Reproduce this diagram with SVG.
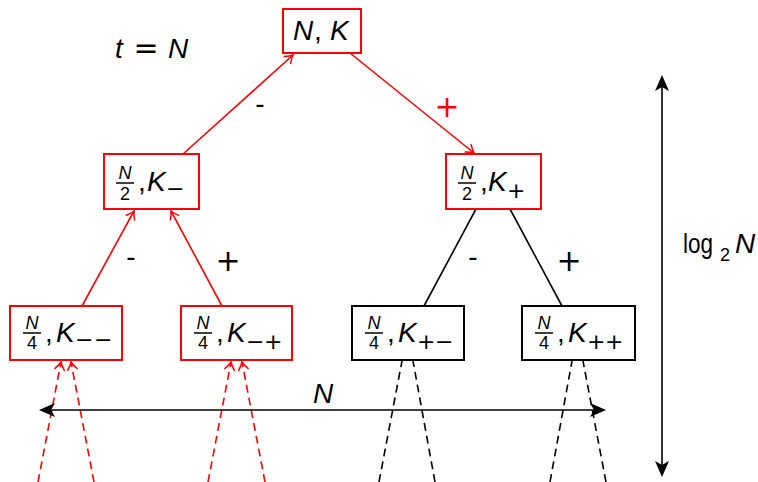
<svg xmlns="http://www.w3.org/2000/svg" width="758" height="482" viewBox="0 0 758 482">
  <style>
    .box { fill: #fff; stroke-width: 2; }
    .red { stroke: #f00; }
    .blk { stroke: #000; }
    .edge { fill: none; stroke-width: 1.6; }
    .dash { fill: none; stroke-width: 1.6; stroke-dasharray: 8 5; }
    .math { font-family: "Liberation Sans", Arial, sans-serif; font-style: italic; font-size: 28px; fill: #000; }
    .rm { font-family: "Liberation Sans", Arial, sans-serif; font-size: 28px; fill: #000; }
    .num { font-family: "Liberation Sans", Arial, sans-serif; font-style: italic; font-size: 18px; fill: #000; }
    .den { font-family: "Liberation Sans", Arial, sans-serif; font-size: 18px; fill: #000; }
    .sub { font-family: "DejaVu Sans", sans-serif; font-size: 22px; fill: #000; }
    .op { font-family: "DejaVu Sans", sans-serif; font-size: 30px; }
    .hy { font-family: "Liberation Sans", Arial, sans-serif; font-size: 28px; fill: #000; }
    .bar { stroke: #000; stroke-width: 1.5; }
  </style>
  <defs>
    <marker id="toRed" markerUnits="userSpaceOnUse" viewBox="-9 -6 11 12" markerWidth="11" markerHeight="12" refX="0" refY="0" orient="auto" overflow="visible">
      <path d="M-7.5,-4.8 C-4.2,-2.1 -1.6,-0.6 0,0 C-1.6,0.6 -4.2,2.1 -7.5,4.8" fill="none" stroke="#f00" stroke-width="1.5" stroke-linecap="round"/>
    </marker>
    <marker id="stealth" markerUnits="userSpaceOnUse" viewBox="-13 -8 18 16" markerWidth="18" markerHeight="16" refX="0" refY="0" orient="auto-start-reverse" overflow="visible">
      <path d="M4,0 L-12,-7 L-8,0 L-12,7 Z" fill="#000"/>
    </marker>
  </defs>

  <!-- connectors -->
  <g id="connectors">
    <line class="edge red" x1="183" y1="154" x2="293" y2="55" marker-end="url(#toRed)"/>
    <line class="edge red" x1="350" y1="53" x2="474" y2="153" marker-end="url(#toRed)"/>
    <line class="edge red" x1="82" y1="306" x2="134" y2="211" marker-end="url(#toRed)"/>
    <line class="edge red" x1="222" y1="306" x2="171" y2="211" marker-end="url(#toRed)"/>
    <line class="edge blk" x1="476" y1="209" x2="424" y2="306"/>
    <line class="edge blk" x1="510" y1="209" x2="562" y2="306"/>

    <line class="dash red" x1="38" y1="482" x2="61" y2="362" marker-end="url(#toRed)"/>
    <line class="dash red" x1="94" y1="482" x2="71" y2="362" marker-end="url(#toRed)"/>
    <line class="dash red" x1="208" y1="482" x2="231" y2="362" marker-end="url(#toRed)"/>
    <line class="dash red" x1="265" y1="482" x2="242" y2="362" marker-end="url(#toRed)"/>
    <line class="dash blk" x1="379" y1="482" x2="402" y2="361"/>
    <line class="dash blk" x1="435" y1="482" x2="413" y2="361"/>
    <line class="dash blk" x1="550" y1="482" x2="572" y2="361"/>
    <line class="dash blk" x1="606" y1="482" x2="583" y2="361"/>

    <line class="edge blk" x1="43" y1="410" x2="602" y2="410" stroke-width="2" marker-start="url(#stealth)" marker-end="url(#stealth)"/>
    <line class="edge blk" x1="662" y1="79" x2="662" y2="473" stroke-width="2" marker-start="url(#stealth)" marker-end="url(#stealth)"/>

    <!-- edge labels -->
    <text class="hy" x="260" y="113" text-anchor="middle">-</text>
    <text class="op" x="447" y="117" text-anchor="middle" fill="#f00">+</text>
    <text class="hy" x="131" y="266" text-anchor="middle">-</text>
    <text class="op" x="228" y="271" text-anchor="middle" fill="#000">+</text>
    <text class="hy" x="473" y="266" text-anchor="middle">-</text>
    <text class="op" x="569" y="271" text-anchor="middle" fill="#000">+</text>
  </g>

  <!-- annotations -->
  <g id="label-t">
    <text class="math" x="115" y="58">t</text>
    <text class="op" x="146" y="58" text-anchor="middle" fill="#000">=</text>
    <text class="math" x="168" y="58">N</text>
  </g>
  <g id="label-N">
    <text class="math" x="323" y="403" text-anchor="middle">N</text>
  </g>
  <g id="label-log">
    <text class="rm" x="683" y="253" textLength="30" lengthAdjust="spacingAndGlyphs">log</text>
    <text class="den" x="720" y="261" font-size="17">2</text>
    <text class="math" x="735" y="253">N</text>
  </g>

  <!-- root -->
  <g id="node-root">
    <rect class="box red" x="283" y="9" width="78" height="44"/>
    <text class="math" x="293" y="40">N</text>
    <text class="rm" x="314" y="40">,</text>
    <text class="math" x="330" y="40">K</text>
  </g>

  <!-- level 1 -->
  <g id="node-m">
    <rect class="box red" x="104" y="154" width="95" height="55"/>
    <text class="num" x="125" y="179" text-anchor="middle">N</text>
    <line class="bar" x1="116" y1="183" x2="134" y2="183"/>
    <text class="den" x="125" y="200" text-anchor="middle">2</text>
    <text class="rm" x="138" y="191">,</text>
    <text class="math" x="147" y="191">K</text>
    <text class="sub" x="166" y="196">−</text>
  </g>
  <g id="node-p">
    <rect class="box red" x="446" y="154" width="95" height="55"/>
    <text class="num" x="467" y="179" text-anchor="middle">N</text>
    <line class="bar" x1="458" y1="183" x2="476" y2="183"/>
    <text class="den" x="467" y="200" text-anchor="middle">2</text>
    <text class="rm" x="480" y="191">,</text>
    <text class="math" x="488" y="191">K</text>
    <text class="sub" x="507" y="198">+</text>
  </g>

  <!-- level 2 -->
  <g id="node-mm">
    <rect class="box red" x="10" y="306" width="112" height="54"/>
    <text class="num" x="32" y="329" text-anchor="middle">N</text>
    <line class="bar" x1="23" y1="333" x2="41" y2="333"/>
    <text class="den" x="32" y="349" text-anchor="middle">4</text>
    <text class="rm" x="45" y="342">,</text>
    <text class="math" x="56" y="342">K</text>
    <text class="sub" x="75 94" y="347">−−</text>
  </g>
  <g id="node-mp">
    <rect class="box red" x="181" y="306" width="111" height="54"/>
    <text class="num" x="203" y="329" text-anchor="middle">N</text>
    <line class="bar" x1="194" y1="333" x2="212" y2="333"/>
    <text class="den" x="203" y="349" text-anchor="middle">4</text>
    <text class="rm" x="216" y="342">,</text>
    <text class="math" x="227" y="342">K</text>
    <text class="sub" x="246 264" y="349">−+</text>
  </g>
  <g id="node-pm">
    <rect class="box blk" x="352" y="306" width="112" height="54"/>
    <text class="num" x="374" y="329" text-anchor="middle">N</text>
    <line class="bar" x1="365" y1="333" x2="383" y2="333"/>
    <text class="den" x="374" y="349" text-anchor="middle">4</text>
    <text class="rm" x="387" y="342">,</text>
    <text class="math" x="398" y="342">K</text>
    <text class="sub" x="417 435" y="349">+−</text>
  </g>
  <g id="node-pp">
    <rect class="box blk" x="522" y="306" width="113" height="54"/>
    <text class="num" x="544" y="329" text-anchor="middle">N</text>
    <line class="bar" x1="535" y1="333" x2="553" y2="333"/>
    <text class="den" x="544" y="349" text-anchor="middle">4</text>
    <text class="rm" x="557" y="342">,</text>
    <text class="math" x="568" y="342">K</text>
    <text class="sub" x="587 605" y="349">++</text>
  </g>
</svg>
